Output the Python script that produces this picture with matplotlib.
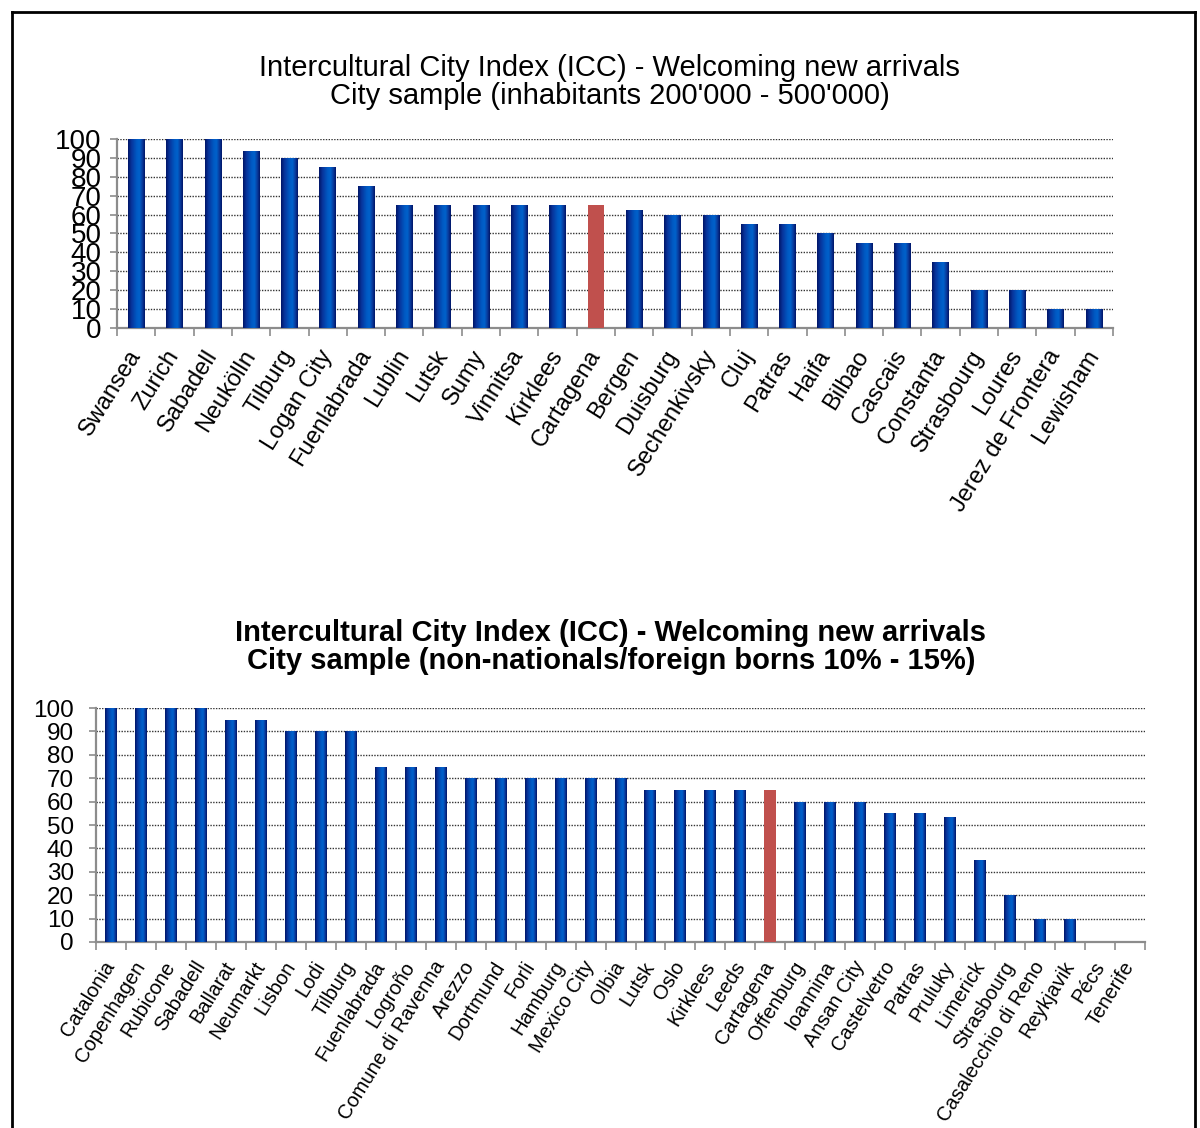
import numpy as np
import matplotlib
matplotlib.use("Agg")
import matplotlib.pyplot as plt
from matplotlib.colors import LinearSegmentedColormap
from matplotlib.lines import Line2D

plt.rcParams["font.family"] = ["Liberation Sans", "DejaVu Sans"]

# ---- data -------------------------------------------------------------
cities_pop = ["Swansea", "Zurich", "Sabadell", "Neukölln", "Tilburg", "Logan City",
              "Fuenlabrada", "Lublin", "Lutsk", "Sumy", "Vinnitsa", "Kirklees",
              "Cartagena", "Bergen", "Duisburg", "Sechenkivsky", "Cluj", "Patras",
              "Haifa", "Bilbao", "Cascais", "Constanta", "Strasbourg", "Loures",
              "Jerez de Frontera", "Lewisham"]
scores_pop = [100, 100, 100, 93.75, 90, 85, 75, 65, 65, 65, 65, 65, 65, 62.5,
              60, 60, 55, 55, 50, 45, 45, 35, 20, 20, 10, 10]

cities_foreign = ["Catalonia", "Copenhagen", "Rubicone", "Sabadell", "Ballarat",
                  "Neumarkt", "Lisbon", "Lodi", "Tilburg", "Fuenlabrada", "Logroño",
                  "Comune di Ravenna", "Arezzo", "Dortmund", "Forli", "Hamburg",
                  "Mexico City", "Olbia", "Lutsk", "Oslo", "Kirklees", "Leeds",
                  "Cartagena", "Offenburg", "Ioannina", "Ansan City", "Castelvetro",
                  "Patras", "Pruluky", "Limerick", "Strasbourg", "Casalecchio di Reno",
                  "Reykjavik", "Pécs", "Tenerife"]
scores_foreign = [100, 100, 100, 100, 95, 95, 90, 90, 90, 75, 75, 75, 70, 70, 70, 70,
                  70, 70, 65, 65, 65, 65, 65, 60, 60, 60, 55, 55, 53.5, 35, 20, 10,
                  10, 0, 0]

highlight = "Cartagena"
yticks = list(range(0, 101, 10))

title_pop = ("Intercultural City Index (ICC) - Welcoming new arrivals\n"
             "City sample (inhabitants 200'000 - 500'000)")
title_foreign = ("Intercultural City Index (ICC) - Welcoming new arrivals\n"
                 "City sample (non-nationals/foreign borns 10% - 15%)")

# ---- styling ----------------------------------------------------------
bar_cmap = LinearSegmentedColormap.from_list(
    "cyl", [(0.0, "#001466"), (0.2, "#08339a"), (0.5, "#0058c2"),
            (0.68, "#0062cc"), (0.85, "#0a3a9c"), (1.0, "#001466")])
red = "#c0504d"
axis_grey = "#8c8c8c"
label_angle = 58


def draw_chart(ax, names, values, ylabel_size, xlabel_size, ypad, xpad, bar_w):
    x = np.arange(len(names))
    colors = [red if n == highlight else "#0050b8" for n in names]
    bars = ax.bar(x, values, width=bar_w, color=colors, zorder=3, linewidth=0)
    grad = np.linspace(0, 1, 128).reshape(1, -1)
    for name, b in zip(names, bars):
        if name == highlight or b.get_height() <= 0:
            continue
        x0, w, h = b.get_x(), b.get_width(), b.get_height()
        im = ax.imshow(grad, cmap=bar_cmap, extent=(x0, x0 + w, 0, h),
                       aspect="auto", interpolation="bilinear", zorder=4)
        im.set_clip_path(b)
    ax.set_xlim(-0.5, len(names) - 0.5)
    ax.set_ylim(0, 100)
    ax.set_yticks(yticks)
    ax.set_yticklabels([str(v) for v in yticks], fontsize=ylabel_size)
    ax.set_xticks(x)
    ax.set_xticklabels(names, rotation=label_angle, ha="right", va="center",
                       rotation_mode="anchor", fontsize=xlabel_size)
    ax.set_xticks(np.arange(-0.5, len(names)), minor=True)
    ax.tick_params(axis="x", which="major", length=0, pad=xpad)
    ax.tick_params(axis="x", which="minor", length=6, width=1.2,
                   color=axis_grey, direction="out")
    ax.tick_params(axis="y", length=5, width=1.2, color=axis_grey,
                   direction="out", pad=ypad)
    ax.yaxis.grid(True, linestyle=(0, (1, 1)), color="#333333", linewidth=1.0,
                  zorder=1)
    ax.set_axisbelow(True)
    for s in ("top", "right"):
        ax.spines[s].set_visible(False)
    for s in ("left", "bottom"):
        ax.spines[s].set_color(axis_grey)
        ax.spines[s].set_linewidth(1.6)


fig = plt.figure(figsize=(12, 11.28), dpi=100)

ax1 = fig.add_axes([0.0975, 0.7092, 0.83, 0.1676])
draw_chart(ax1, cities_pop, scores_pop, ylabel_size=20, xlabel_size=17,
           ypad=6, xpad=17, bar_w=0.43)

ax2 = fig.add_axes([0.08, 0.1649, 0.8742, 0.2074])
draw_chart(ax2, cities_foreign, scores_foreign, ylabel_size=17.5, xlabel_size=14.5,
           ypad=11, xpad=15, bar_w=0.4)

fig.text(0.508, 0.9275, title_pop, ha="center", va="center", fontsize=21,
         linespacing=1.0)
fig.text(0.509, 0.4265, title_foreign, ha="center", va="center", fontsize=21,
         fontweight="bold", linespacing=1.0)

# page frame (left, top, right edges)
fr_l, fr_r, fr_t = 12 / 1200, 1195 / 1200, 1 - 12 / 1128
for xs, ys in (([fr_l, fr_l], [0, fr_t]), ([fr_l, fr_r], [fr_t, fr_t]),
               ([fr_r, fr_r], [0, fr_t])):
    fig.add_artist(Line2D(xs, ys, transform=fig.transFigure, color="black",
                          linewidth=2))

fig.savefig("out.png", dpi=100, facecolor="white")
